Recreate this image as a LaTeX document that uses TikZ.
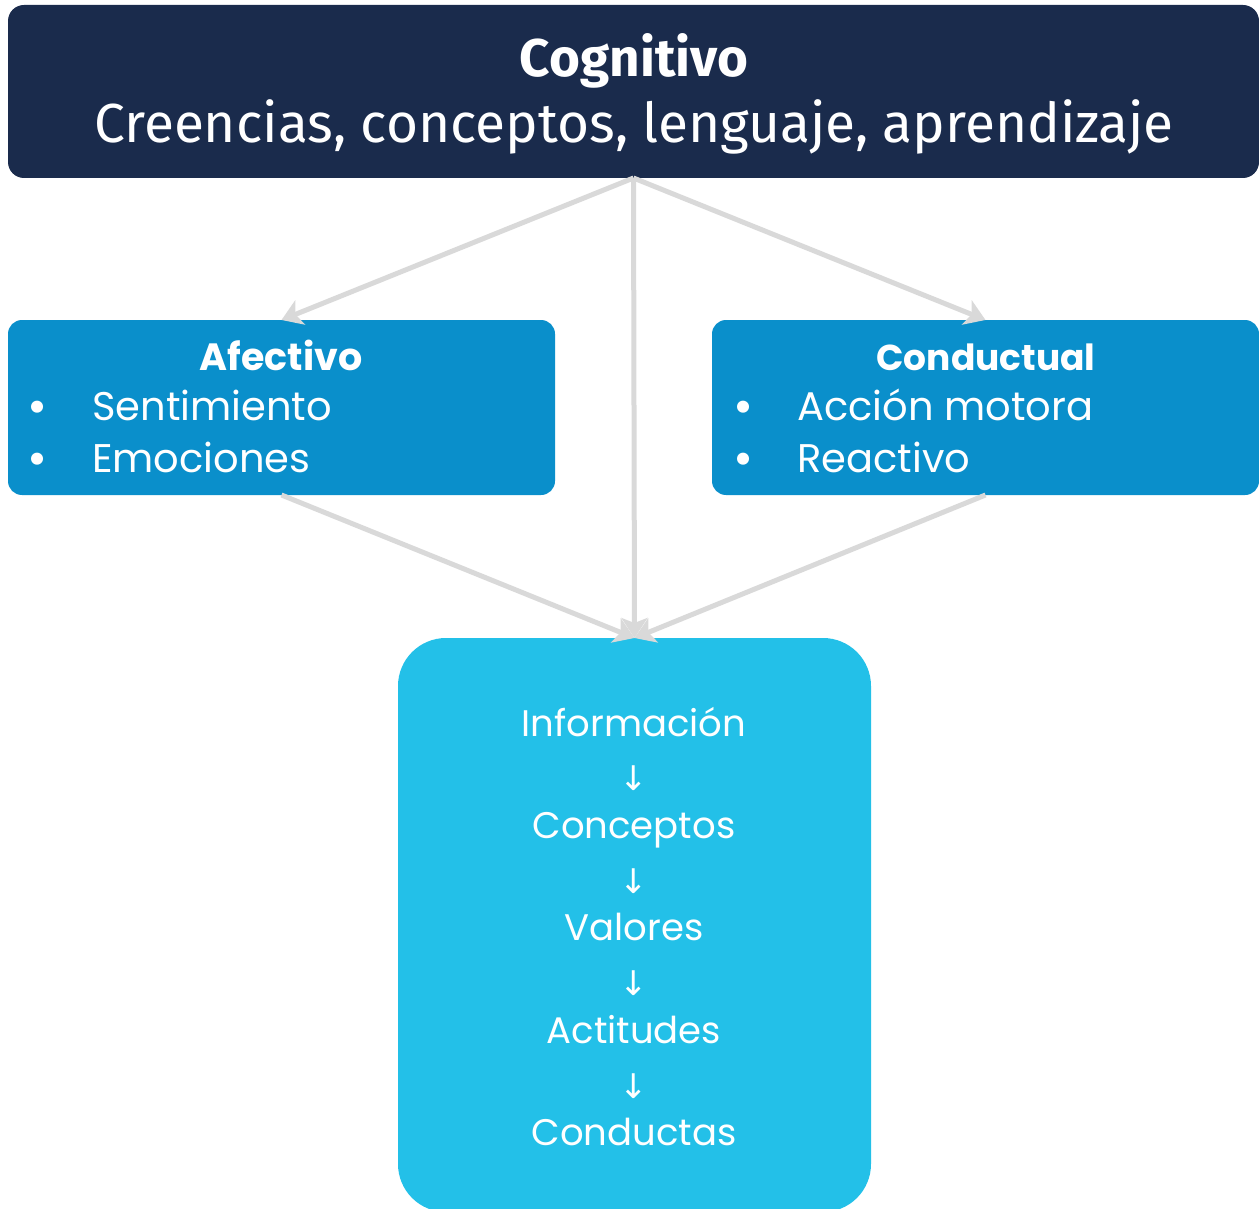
\documentclass[tikz,border=0pt]{standalone}
\usepackage{fontspec}
\setmainfont{Poppins}
\newfontfamily\topfont{Fira Sans}
\newfontfamily\arrfont{DejaVu Sans}
\usetikzlibrary{arrows.meta}
\definecolor{navy}{HTML}{1A2B4C}
\definecolor{midblue}{HTML}{0A8FCB}
\definecolor{lightblue}{HTML}{23C0E8}
\definecolor{conn}{HTML}{D9D9D9}
\begin{document}
\begin{tikzpicture}[x=1pt,y=-1pt,
  box/.style={draw=none,inner sep=0pt,outer sep=0pt},
  link/.style={conn,line width=5pt,-{Stealth[length=20pt,width=26pt,inset=5pt]}},
  txt/.style={text=white,inner sep=0pt},
  headtxt/.style={txt,anchor=base,font=\bfseries\fontsize{38}{44}\selectfont},
  itemtxt/.style={txt,anchor=base west,font=\fontsize{40}{46}\selectfont},
  bullettxt/.style={txt,anchor=base,font=\bfseries\fontsize{40}{46}\selectfont},
  flowtxt/.style={txt,anchor=base,font=\fontsize{37}{42}\selectfont},
  flowarr/.style={txt,anchor=base,font=\arrfont\fontsize{34}{38}\selectfont}]
\useasboundingbox (0,0) rectangle (1259,1209);
\begin{scope}
\clip (0,0) rectangle (1259,1209);
\node[box,fill=navy,rounded corners=16pt,minimum width=1251pt,minimum height=173pt] (cog) at (633.5,91.5) {};
\node[box,fill=midblue,rounded corners=14pt,minimum width=547pt,minimum height=175pt] (af) at (281.5,407.5) {};
\node[box,fill=midblue,rounded corners=14pt,minimum width=547pt,minimum height=175pt] (co) at (985.5,407.5) {};
\node[box,fill=lightblue,rounded corners=48pt,minimum width=473pt,minimum height=574pt] (bt) at (634.5,925) {};
\end{scope}
% connectors
\draw[link] (cog.south) -- (af.north);
\draw[link] (cog.south) -- (co.north);
\draw[link] (cog.south) -- (bt.north);
\draw[link] (af.south) -- (bt.north);
\draw[link] (co.south) -- (bt.north);
% top texts
\node[txt,anchor=base,font=\topfont\bfseries\fontsize{53}{58}\selectfont] (cogt) at (634,77) {Cognitivo};
\node[txt,anchor=base,font=\topfont\fontsize{55}{62}\selectfont] (cogs) at (634,143) {Creencias, conceptos, lenguaje, aprendizaje};
% afectivo
\node[headtxt] (aft) at (281,370) {Afectivo};
\node[bullettxt] (afb1) at (38,420) {•};
\node[bullettxt] (afb2) at (38,472) {•};
\node[itemtxt] (af1) at (92,420) {Sentimiento};
\node[itemtxt] (af2) at (92,472) {Emociones};
% conductual
\node[headtxt,font=\bfseries\fontsize{36}{42}\selectfont] (cot) at (986,370) {Conductual};
\node[bullettxt] (cob1) at (744,420) {•};
\node[bullettxt] (cob2) at (744,472) {•};
\node[itemtxt] (co1) at (797,420) {Acción motora};
\node[itemtxt] (co2) at (797,472) {Reactivo};
% flow
\node[flowtxt] (f1) at (634,736) {Información};
\node[flowarr] (a1) at (634,790) {↓};
\node[flowtxt] (f2) at (634,838) {Conceptos};
\node[flowarr] (a2) at (634,893) {↓};
\node[flowtxt] (f3) at (634,940) {Valores};
\node[flowarr] (a3) at (634,995) {↓};
\node[flowtxt] (f4) at (634,1043) {Actitudes};
\node[flowarr] (a4) at (634,1098) {↓};
\node[flowtxt] (f5) at (634,1145) {Conductas};
\end{tikzpicture}
\end{document}
